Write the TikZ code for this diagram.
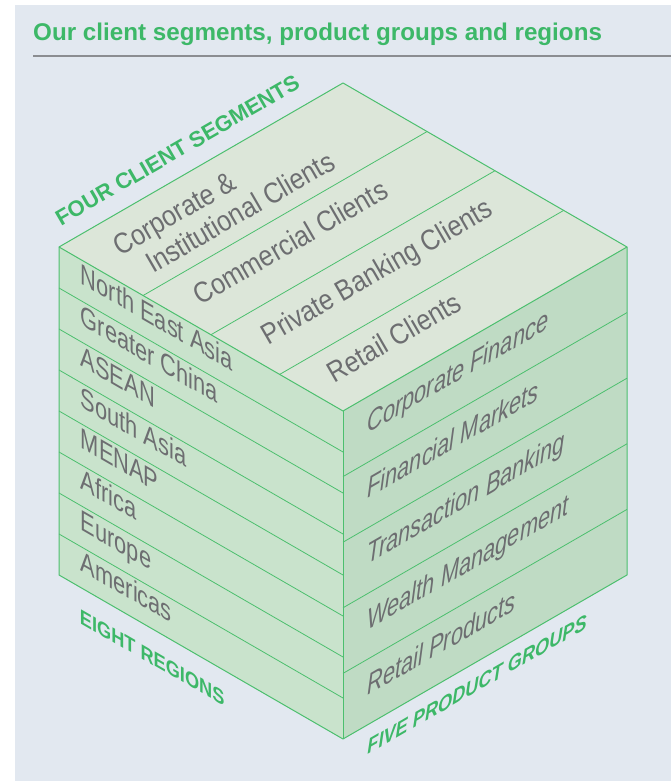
\documentclass[tikz,border=0pt]{standalone}
\usepackage{fontspec}
\setmainfont{Liberation Sans}
\newfontfamily\facefont{Liberation Sans}[FakeStretch=0.87]
\usetikzlibrary{calc}
\definecolor{pagebg}{HTML}{E2E8F0}
\definecolor{topfill}{HTML}{DCE6D9}
\definecolor{leftfill}{HTML}{C9E3CC}
\definecolor{rightfill}{HTML}{BFDBC4}
\definecolor{edgegreen}{HTML}{4CBF6E}
\definecolor{titlegreen}{HTML}{3DB868}
\definecolor{facegray}{HTML}{6D6E71}
\definecolor{rulegray}{HTML}{8B8D91}
\tikzset{
  edge/.style={draw=edgegreen, line width=1pt, line join=round},
  divider/.style={draw=edgegreen, line width=0.8pt},
  facetext/.style={font=\facefont\fontsize{29}{31}\selectfont, text=facegray,
    inner sep=0pt, text height=0.716em, text depth=0pt, anchor=west},
  axislabel/.style={font=\bfseries\fontsize{21}{21}\selectfont, text=titlegreen,
    inner sep=0pt, anchor=base west},
}
\begin{document}
\begin{tikzpicture}[x=1pt,y=1pt]
\useasboundingbox (0,0) rectangle (671,781);
\fill[white] (0,0) rectangle (671,781);
\fill[pagebg] (15,0) rectangle (671,776);
% title and rule
\node[font=\bfseries\fontsize{24.2}{24}\selectfont, text=titlegreen, anchor=base west, inner sep=0pt]
  (title) at (33,740) {Our client segments, product groups and regions};
\coordinate (ruleL) at (33,725);
\coordinate (ruleR) at (671,725);
\draw[rulegray, line width=1.3pt] (ruleL) -- (ruleR);
% cube corners
\coordinate (T) at (343,698);
\coordinate (TL) at (59,534);
\coordinate (TR) at (627,534);
\coordinate (C) at (343,370);
\coordinate (BL) at (59,206);
\coordinate (B) at (343,42);
\coordinate (BR) at (627,206);
\fill[topfill] (TL) -- (T) -- (TR) -- (C) -- cycle;
\fill[leftfill] (TL) -- (C) -- (B) -- (BL) -- cycle;
\fill[rightfill] (C) -- (TR) -- (BR) -- (B) -- cycle;
\foreach \i in {1,...,7}
  \draw[divider] ($(TL)+(0,-41*\i)$) -- ($(C)+(0,-41*\i)$);
\foreach \i in {1,...,4}
  \draw[divider] ($(C)+(0,-65.6*\i)$) -- ($(TR)+(0,-65.6*\i)$);
\foreach \f in {0.296,0.535,0.777}
  \draw[divider] ($(TL)!\f!(C)$) -- ($(T)!\f!(TR)$);
\draw[edge] (TL) -- (T) -- (TR) -- (BR) -- (B) -- (BL) -- cycle;
\draw[edge] (TL) -- (C) -- (TR);
\draw[edge] (C) -- (B);
% top face: client segments
\node[facetext, rotate=30, align=left] (seg1) at ($(TL)!0.148!(C)+(30:24)+(120:-25)$)
  {Corporate \&\\[1pt]\hspace*{20pt}Institutional Clients};
\node[facetext, rotate=30] (seg2) at ($(TL)!0.4155!(C)+(30:25)$) {Commercial Clients};
\node[facetext, rotate=30] (seg3) at ($(TL)!0.656!(C)+(30:25)$) {Private Banking Clients};
\node[facetext, rotate=30] (seg4) at ($(TL)!0.8885!(C)+(30:25)$) {Retail Clients};
\node[axislabel, rotate=30, font=\bfseries\fontsize{22}{22}\selectfont]
  (segaxis) at ($(TL)+(30:12)+(120:17)$) {FOUR CLIENT SEGMENTS};
% left face: regions
\begin{scope}[shift={(TL)}, cm={0.866,-0.5,0,1,(0,0)}, transform shape]
\foreach \name [count=\i from 0] in {North East Asia, Greater China, ASEAN, South Asia,
    MENAP, Africa, Europe, Americas}
  \node[facetext] (region\i) at (25,{-41*(\i+0.5)}) {\name};
\node[axislabel] (regionaxis) at (24,-364) {EIGHT REGIONS};
\end{scope}
% right face: product groups
\begin{scope}[shift={(C)}, cm={0.866,0.5,0,1,(0,0)}, transform shape]
\foreach \name [count=\i from 0] in {Corporate Finance, Financial Markets,
    Transaction Banking, Wealth Management, Retail Products}
  \node[facetext, font=\facefont\itshape\fontsize{29}{31}\selectfont]
    (product\i) at (28,{-65.6*(\i+0.5)}) {\name};
\node[axislabel, font=\bfseries\itshape\fontsize{21}{21}\selectfont]
  (productaxis) at (28,-358) {FIVE PRODUCT GROUPS};
\end{scope}
\end{tikzpicture}
\end{document}
